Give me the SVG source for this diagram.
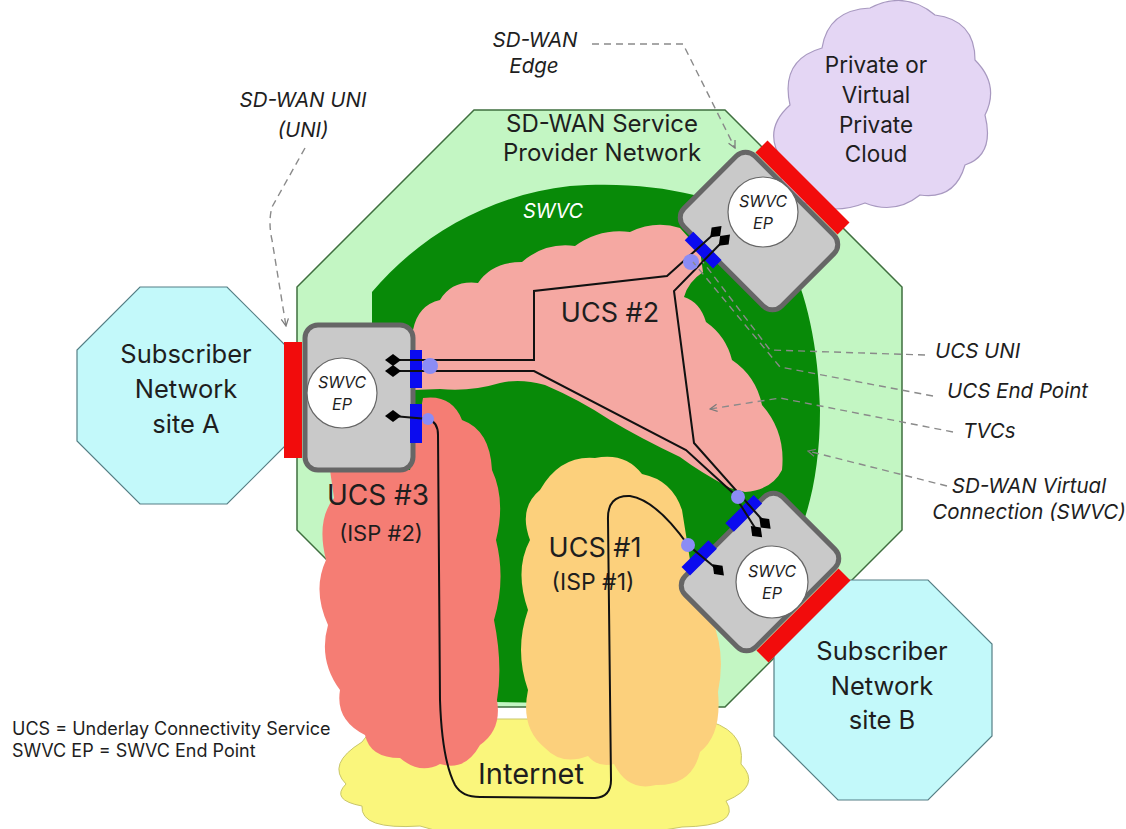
<svg xmlns="http://www.w3.org/2000/svg" width="1126" height="829" viewBox="0 0 1126 829">
<defs>
<style>
text{font-family:Inter,"Liberation Sans","DejaVu Sans",sans-serif;fill:#1e1e1e;text-anchor:middle}
.big{font-size:24px}
.sub{font-size:25.5px}
.lbl{font-size:20.5px;font-style:italic}
.ep{font-size:16px;font-style:italic}
.box{fill:#c9c9c9;stroke:#666;stroke-width:5}
.red{fill:#f20c0c}
.blue{fill:#0b0bef}
.dot{fill:#8b8cf5}
.dia{fill:#000}
.tvc{fill:none;stroke:#111;stroke-width:2}
.dash{fill:none;stroke:#8a8a8a;stroke-width:1.4;stroke-dasharray:7,5}
.circ{fill:#fff;stroke:#666;stroke-width:1.2}
</style>
<marker id="arr" viewBox="0 0 10 10" refX="9" refY="5" markerWidth="9" markerHeight="9" orient="auto" markerUnits="userSpaceOnUse">
<path d="M1,1 L9,5 L1,9" fill="none" stroke="#7a7a7a" stroke-width="1.4"/>
</marker>
</defs>
<rect width="1126" height="829" fill="#fff"/>

<g id="sp-network">
<polygon points="474,110 725,110 902,287 902,530 725,707 474,707 297,530 297,287" fill="#c3f6c3" stroke="#3f6f3f" stroke-width="1.5"/>
<text class="big" x="602" y="132">SD-WAN Service</text>
<text class="big" x="602" y="161">Provider Network</text>
</g>

<g id="swvc">
<path d="M372,700 L372,292 C420,235 490,195 570,186 C650,180 720,195 765,225 C800,262 818,330 820,410 C820,480 805,530 785,560 L700,590 L685,705 Z" fill="#088a08"/>
<text x="553" y="218" style="font-size:20px;font-style:italic;fill:#fff">SWVC</text>
</g>

<g id="ucs2">
<path d="M413,330 Q418,305 440,300 Q452,280 478,283 Q492,262 522,262 Q545,242 575,246 Q600,228 630,232 Q655,220 680,228 L700,250 L703,272 Q688,282 684,297 Q700,302 706,322 Q726,336 732,360 Q756,376 762,405 Q786,432 782,470 Q772,490 745,492 L730,488 Q700,472 680,457 Q640,438 610,420 Q580,400 545,385 Q520,378 500,383 Q470,392 440,389 L413,390 Z" fill="#f5a8a2"/>
<text x="610" y="322" style="font-size:27px">UCS #2</text>
</g>

<g id="internet">
<path d="M362,742 Q380,714 432,719 L700,719 Q746,728 741,764 Q762,786 726,801 Q742,826 682,827 Q600,842 540,832 Q470,842 420,826 Q360,830 362,806 Q330,800 346,784 Q326,764 362,742 Z" fill="#faf67c" stroke="#c9c66a" stroke-width="1"/>
</g>

<g id="ucs3">
<path d="M423,398 Q452,394 462,420 Q490,430 492,470 Q506,500 496,540 Q506,580 494,620 Q503,665 497,700 Q502,730 480,745 Q465,772 440,764 Q420,775 400,758 Q370,758 365,735 Q335,720 340,690 Q318,660 328,625 Q312,590 326,560 Q316,520 334,498 L330,470 L410,470 Z" fill="#f57d74"/>
<text x="378" y="505" style="font-size:28px">UCS #3</text>
<text x="381" y="541" style="font-size:22px">(ISP #2)</text>
</g>

<g id="ucs1">
<path d="M540,490 Q560,455 595,458 Q625,452 642,474 Q672,480 682,510 L690,560 Q716,580 712,620 Q726,652 718,692 Q722,735 700,752 Q692,786 656,785 Q628,792 614,764 Q598,768 588,756 Q562,766 545,748 Q520,728 528,690 Q514,650 528,610 Q514,570 530,540 Q518,508 540,490 Z" fill="#fcd07c"/>
<text x="595" y="557" style="font-size:27px">UCS #1</text>
<text x="593" y="590" style="font-size:23px">(ISP #1)</text>
</g>

<g id="site-a">
<polygon points="140,287 227,287 290,350 290,441 227,504 140,504 77,441 77,350" fill="#c3f9fa" stroke="#557f85" stroke-width="1.2"/>
<text class="sub" x="186" y="363">Subscriber</text>
<text class="sub" x="186" y="398">Network</text>
<text class="sub" x="186" y="433">site A</text>
</g>

<g id="site-b">
<polygon points="838,580 928,580 992,644 992,736 928,800 838,800 774,736 774,644" fill="#c3f9fa" stroke="#557f85" stroke-width="1.2"/>
<text class="sub" x="882" y="660">Subscriber</text>
<text class="sub" x="882" y="695">Network</text>
<text class="sub" x="882" y="729">site B</text>
</g>

<g id="private-cloud">
<path d="M805,203 Q775,195 782,160 Q762,130 790,105 Q780,60 822,48 Q828,10 870,8 Q905,-10 935,15 Q975,20 975,60 Q1000,85 985,115 Q995,155 965,165 Q955,200 920,195 Q895,215 865,203 Q835,215 805,203 Z" fill="#e4d6f4" stroke="#a899c0" stroke-width="1.2"/>
<text x="876" y="73" style="font-size:22.5px">Private or</text>
<text x="876" y="103" style="font-size:22.5px">Virtual</text>
<text x="876" y="133" style="font-size:22.5px">Private</text>
<text x="876" y="162" style="font-size:22.5px">Cloud</text>
</g>

<g id="ep-a">
<rect class="red" x="284" y="342" width="18" height="116"/>
<rect class="box" x="305" y="325" width="108" height="145" rx="13"/>
<rect class="blue" x="410" y="350" width="12" height="38"/>
<rect class="blue" x="410" y="404" width="12" height="39"/>
<circle class="circ" cx="342" cy="393" r="35"/>
<text class="ep" x="342" y="388">SWVC</text>
<text class="ep" x="342" y="410">EP</text>
</g>

<g id="ep-top">
<g transform="translate(759,231) rotate(135)">
<rect class="red" x="-70" y="-58" width="17" height="116"/>
<rect class="box" x="-50" y="-69" width="100" height="138" rx="13"/>
<rect class="blue" x="47" y="6" width="12" height="40"/>
</g>
<circle class="circ" cx="763" cy="212" r="35"/>
<text class="ep" x="763" y="207">SWVC</text>
<text class="ep" x="763" y="229">EP</text>
</g>

<g id="ep-bottom">
<g transform="translate(760,572) rotate(-135)">
<rect class="red" x="-70" y="-58" width="17" height="116"/>
<rect class="box" x="-50" y="-69" width="100" height="138" rx="13"/>
<rect class="blue" x="47" y="10" width="12" height="40"/>
<rect class="blue" x="47" y="-52" width="12" height="38"/>
</g>
<circle class="circ" cx="772" cy="582" r="36"/>
<text class="ep" x="772" y="577">SWVC</text>
<text class="ep" x="772" y="599">EP</text>
</g>

<g id="connectors">
<path class="tvc" d="M393,360 H534 V291 L667,276 L716,232"/>
<path class="tvc" d="M393,371 H534 L686,450 L733,493 L757,531"/>
<path class="tvc" d="M724,240 L674,291 L694,443 L765,523"/>
<path class="tvc" d="M393,416 L428,419 Q438,422 438,435 L440,700 Q442,760 455,785 Q462,797 480,797 L595,798 Q611,797 611,780 L608,520 Q607,495 630,496 Q656,500 688,545 L718,570"/>
<g class="dia">
<polygon points="385,360 393,354 401,360 393,366"/>
<polygon points="385,371 393,365 401,371 393,377"/>
<polygon points="385,416 393,410 401,416 393,422"/>
<g transform="translate(759,231) rotate(135)">
<polygon points="23,18 31,12 39,18 31,24"/>
<polygon points="23,30 31,24 39,30 31,36"/>
</g>
<g transform="translate(760,572) rotate(-135)">
<polygon points="23,26 31,20 39,26 31,32"/>
<polygon points="23,38 31,32 39,38 31,44"/>
<polygon points="23,-28 31,-34 39,-28 31,-22"/>
</g>
</g>
<circle class="dot" cx="430" cy="366" r="8"/>
<circle class="dot" cx="428" cy="419" r="6"/>
<circle class="dot" cx="691" cy="262" r="8"/>
<circle class="dot" cx="738" cy="497" r="7"/>
<circle class="dot" cx="688" cy="545" r="7"/>
<path class="dash" d="M305,148 L272,207 Q268,222 272,240 L286,326" marker-end="url(#arr)"/>
<path class="dash" d="M592,44 L683,44 L735,148" marker-end="url(#arr)"/>
<path class="dash" d="M925,355 L770,350 L703,262"/>
<path class="dash" d="M933,396 L780,367 L693,262"/>
<path class="dash" d="M953,432 L780,398 L710,409" marker-end="url(#arr)"/>
<path class="dash" d="M947,486 L808,451" marker-end="url(#arr)"/>
</g>

<g id="labels">
<text x="531" y="784" style="font-size:29px">Internet</text>
<text class="lbl" x="303" y="107">SD-WAN UNI</text>
<text class="lbl" x="303" y="137">(UNI)</text>
<text class="lbl" x="535" y="47">SD-WAN</text>
<text class="lbl" x="534" y="73">Edge</text>
<text class="lbl" x="935" y="358" style="text-anchor:start">UCS UNI</text>
<text class="lbl" x="947" y="398" style="text-anchor:start">UCS End Point</text>
<text class="lbl" x="963" y="438" style="text-anchor:start">TVCs</text>
<text class="lbl" x="1029" y="493">SD-WAN Virtual</text>
<text class="lbl" x="1029" y="519">Connection (SWVC)</text>
<text x="12" y="735" style="font-size:18px;text-anchor:start">UCS = Underlay Connectivity Service</text>
<text x="12" y="757" style="font-size:18px;text-anchor:start">SWVC EP = SWVC End Point</text>
</g>
</svg>
